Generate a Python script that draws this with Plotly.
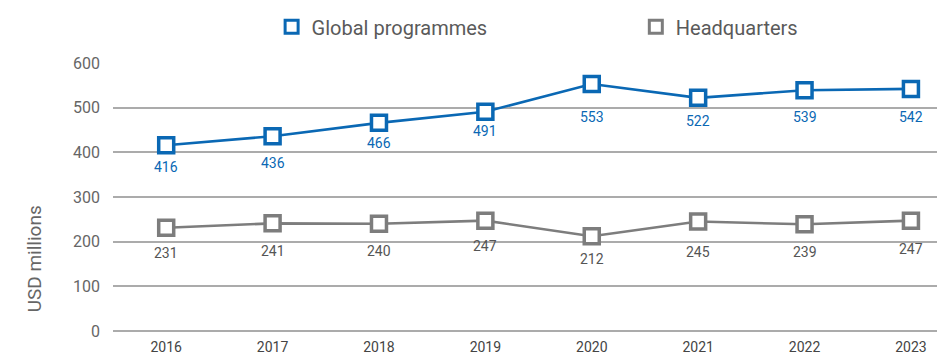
import plotly.graph_objects as go

years = [2016, 2017, 2018, 2019, 2020, 2021, 2022, 2023]
global_programmes = [416, 436, 466, 491, 553, 522, 539, 542]
headquarters = [231, 241, 240, 247, 212, 245, 239, 247]
y_ticks = [0, 100, 200, 300, 400, 500, 600]

BLUE = "#0a68b4"
GREY = "#7d7d7d"
TEXT = "#5a5a5a"
FONT = "Roboto, 'Liberation Sans', sans-serif"

# label offsets below each marker (px)
gp_label_drop = [22, 27, 20, 19, 33, 23, 27, 28]
hq_label_drop = [25, 28, 27, 25, 23, 30, 28, 28]

series = [("Global programmes", global_programmes, BLUE, "legend"),
          ("Headquarters", headquarters, GREY, "legend2")]

fig = go.Figure()

for name, vals, color, leg in series:
    fig.add_trace(go.Scatter(
        x=years, y=vals, mode="lines+markers", name=name, showlegend=False,
        line=dict(color=color, width=2.6),
        marker=dict(symbol="square", size=15, color="white",
                    line=dict(color=color, width=3.5)),
    ))
    # legend entry
    fig.add_trace(go.Scatter(
        x=[None], y=[None], mode="markers", name=name, legend=leg,
        marker=dict(symbol="square", size=13, color="white",
                    line=dict(color=color, width=3)),
    ))

for vals, drops, color in [(global_programmes, gp_label_drop, BLUE),
                           (headquarters, hq_label_drop, "#555555")]:
    for x, v, d in zip(years, vals, drops):
        fig.add_annotation(x=x, y=v, text=str(v), showarrow=False,
                           yshift=-d, font=dict(family=FONT, size=14, color=color))

fig.add_annotation(xref="paper", yref="paper", x=-0.095, y=0.27,
                   text="USD millions", textangle=-90, showarrow=False,
                   xanchor="center", yanchor="middle",
                   font=dict(family=FONT, size=19, color="#666666"))

legend_style = dict(orientation="h", y=1.135, xanchor="left", yanchor="middle",
                    bgcolor="rgba(0,0,0,0)",
                    font=dict(family=FONT, size=20, color=TEXT))

fig.update_layout(
    width=937, height=358,
    margin=dict(l=113, r=0, t=63, b=27),
    paper_bgcolor="white", plot_bgcolor="white",
    font=dict(family=FONT, color=TEXT),
    legend=dict(x=0.1925, **legend_style),
    legend2=dict(x=0.6345, **legend_style),
    xaxis=dict(range=[2015.5, 2023.245], tickvals=years, ticktext=[str(y) for y in years],
               showgrid=False, zeroline=False, showline=False, ticks="",
               ticklabelstandoff=6,
               tickfont=dict(family=FONT, size=14, color="#444444")),
    yaxis=dict(range=[0, 600], tickvals=y_ticks, showgrid=True, gridcolor="#ababab",
               gridwidth=1.5, zeroline=True, zerolinecolor="#ababab", zerolinewidth=1.5,
               showline=False, ticks="", ticklabelstandoff=12,
               tickfont=dict(family=FONT, size=16, color="#666666")),
)

fig.write_html("out.html")
